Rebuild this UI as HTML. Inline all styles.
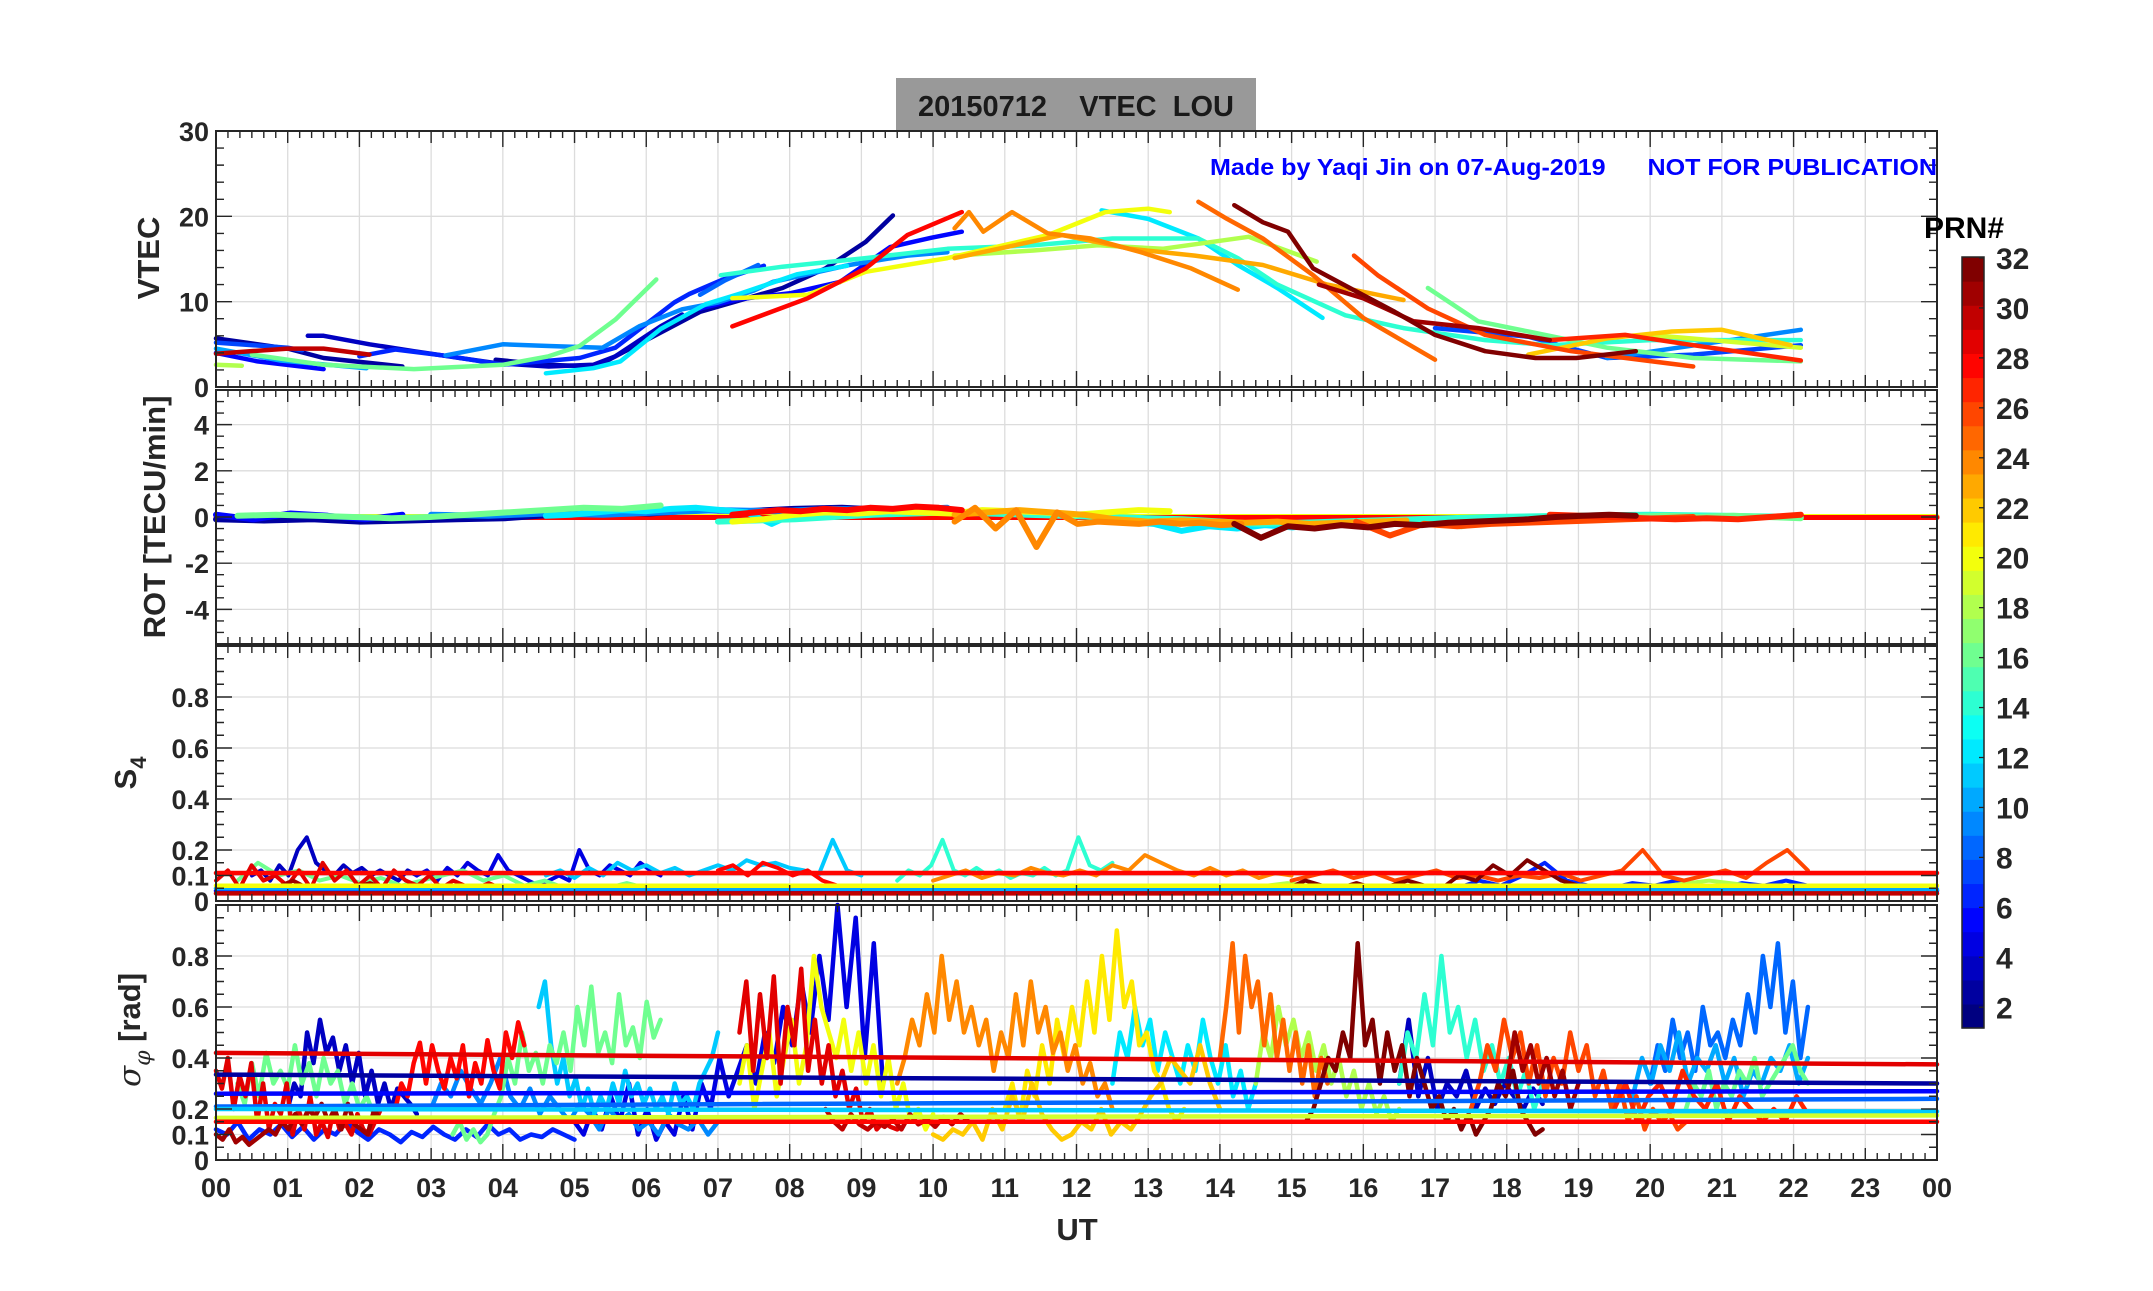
<!DOCTYPE html>
<html><head><meta charset="utf-8"><style>
html,body{margin:0;padding:0;background:#fff;}
svg text{font-family:"Liberation Sans",Arial,sans-serif;font-weight:bold;}
</style></head><body>
<svg id="fig" width="2153" height="1286" viewBox="0 0 2153 1286" xmlns="http://www.w3.org/2000/svg">
<rect x="0" y="0" width="2153" height="1286" fill="#fff"/>
<g id="title-box">
<rect x="896" y="78" width="360" height="54" fill="#999999"/>
<text x="1076" y="116" font-size="29" text-anchor="middle" fill="#1a1a1a" xml:space="preserve">20150712    VTEC  LOU</text>
</g>
<g id="panels"></g>
<text x="1210" y="175" font-size="23" fill="#0000ff" xml:space="preserve" textLength="727" lengthAdjust="spacingAndGlyphs">Made by Yaqi Jin on 07-Aug-2019      NOT FOR PUBLICATION</text>
<text x="1077" y="1240" font-size="31" text-anchor="middle" fill="#262626">UT</text>
<text transform="translate(159,258) rotate(-90)" font-size="31" text-anchor="middle" fill="#262626">VTEC</text>
<text transform="translate(165,517) rotate(-90)" font-size="31" text-anchor="middle" fill="#262626">ROT [TECU/min]</text>
<text transform="translate(136,773) rotate(-90)" font-size="31" text-anchor="middle" fill="#262626">S<tspan font-size="22" dy="10">4</tspan></text>
<text transform="translate(140,1030) rotate(-90)" font-size="31" text-anchor="middle" fill="#262626"><tspan font-style="italic" font-family="DejaVu Serif, serif" font-weight="normal">σ</tspan><tspan font-size="22" dy="10" font-style="italic" font-family="DejaVu Serif, serif" font-weight="normal">φ</tspan><tspan dy="-10"> [rad]</tspan></text>
<g id="colorbar"></g>
<text x="1924" y="238" font-size="30" fill="#000">PRN#</text>
</svg>
<script>
// ---------- DATA ----------
const hourTicks = ["00","01","02","03","04","05","06","07","08","09","10","11","12","13","14","15","16","17","18","19","20","21","22","23","00"];
const vtecTicks = [0,10,20,30];
const rotTicks = [-4,-2,0,2,4];
const s4Ticks = [0,0.1,0.2,0.4,0.6,0.8];
const sigTicks = [0,0.1,0.2,0.4,0.6,0.8];
const cbTicks = [2,4,6,8,10,12,14,16,18,20,22,24,26,28,30,32];

// VTEC series: prn, times (h), values
const vtecPrn = [2,5,7,30,18,10,3,6,16,9,12,2,5,8,14,20,18,28,24,23,25,32,31,26,16,27,22,7,9,19,12];
const vtecT = [
 [0,1,1.5,2.6],[0,0.58,1.5],[0,1,1.2],[0,1,1.5,2.14],[0,0.36],[0,0.9,2.1],
 [1.28,1.5,2.14,2.76,3.4,3.9,4.64,5.26,5.57,6.2,6.5],
 [2.0,2.5,3.26,4,5.07,5.57,6.39,6.6,7.07,7.64],
 [0.5,1.5,2.76,4,4.64,5.07,5.57,6.14],
 [3.2,4,4.64,5.39,5.9,6.5,7,7.5,7.76,8.83,9.64,10.2],
 [4.6,5.26,5.64,6.2,6.83,7.33,8.1,8.8],
 [3.9,4.6,5.3,6.0,6.75,7.9,8.5,9.06,9.44],
 [6.75,7.3,8.02,8.7,9.4,9.98,10.4],
 [6.75,7.1,7.56],
 [7.04,7.9,9.06,10.2,11.4,12.5,13.7,14.25,14.8,15.75,16.56,17.7,18.6,20,22.1],
 [7.2,8.25,9.06,10.2,11.6,12.4,13,13.3],
 [10.3,11.4,12.3,13.2,14.4,15.35],
 [7.2,8.25,9.06,9.64,10.4],
 [10.3,10.5,10.7,11.1,11.6,12.2,12.9,13.6,14.25],
 [10.3,11.8,12.75,13.65,14.6,15.5,16.56],
 [13.7,14.1,14.6,15.3,16,17],
 [14.2,14.6,14.95,15.3,15.9,16.44,17,17.7,18.4,18.97,19.8],
 [15.38,16,16.7,17.6,18.6],
 [15.87,16.2,16.9,17.7,18.9,20.6],
 [16.9,17.6,18.3,19.4,20.6,22.1],
 [18.6,19.65,20.6,22.1],
 [18.3,19.4,20.3,21,21.96],
 [17,18.3,19.4,20.6,22.1],
 [19.4,22.1],
 [20,22.1],
 [12.35,13,13.7,14.25,14.8,15.43]
];
const vtecV = [
 [5.7,4.5,3.4,2.4],[4.0,3.0,2.1],[5.2,4.6,4.3],[3.9,4.5,4.5,3.8],[2.6,2.5],[4.5,3.1,2.2],
 [6.0,6.0,5.0,4.2,3.4,2.8,2.4,2.6,3.6,7.1,8.5],
 [3.6,4.4,3.6,2.6,3.4,4.6,9.9,10.9,12.6,14.2],
 [3.8,2.6,2.1,2.6,3.6,4.8,7.9,12.6],
 [3.7,5.0,4.8,4.6,7.1,9.1,9.9,11.3,12.3,14.3,15.4,15.8],
 [1.6,2.2,3.0,6.8,9.7,11.0,13.2,14.2],
 [3.2,2.6,2.4,5.5,8.8,11.6,13.9,17.0,20.1],
 [9.2,10.3,11.0,12.3,16.4,17.5,18.2],
 [10.8,12.5,14.3],
 [13.1,14.1,15.1,16.2,16.6,17.4,17.4,15.1,12,8.4,6.9,5.5,4.9,5.5,5.5],
 [10.4,10.8,13.5,15.1,17.8,20.5,20.9,20.5],
 [15.4,16.0,16.6,16.2,17.6,14.7],
 [7.1,10.4,13.9,17.8,20.5],
 [18.6,20.5,18.2,20.5,18.0,17.4,15.8,13.9,11.4],
 [15.1,17.8,16.2,15.4,14.3,12,10.2],
 [21.7,19.7,17.4,13.1,8.1,3.2],
 [21.3,19.3,18.2,13.9,11.2,8.8,6.1,4.2,3.4,3.4,4.2],
 [12,10.4,7.7,6.9,5.5],
 [15.4,13.1,9.2,6.1,4.2,2.4],
 [11.6,7.7,6.5,4.6,3.4,3.0],
 [5.5,6.1,4.9,3.1],
 [3.8,5.7,6.5,6.7,4.9],
 [6.9,5.9,3.4,3.8,4.9],
 [3.4,6.7],
 [6.1,4.6],
 [20.7,19.7,17.4,14.3,11.6,8.1]
];

// ROT series
const rotPrn = [2,16,12,28,20,24,23,12,32,26,16,27,9,5,14];
const rotT0 = [0,0.3,4.6,7.2,7.2,10.3,10.3,12.3,14.2,15.9,16.9,18.6,3.0,0,7.0];
const rotT1 = [9.4,6.2,8.8,10.4,13.3,14.3,16.6,15.4,19.8,20.6,22.1,22.1,10.2,2.6,22.1];
const rotV = [
 [-0.1,-0.15,-0.1,-0.2,-0.15,-0.1,-0.05,0.1,0.2,0.15,0.3,0.25,0.35,0.4,0.3],
 [0.05,0.1,0.05,0,-0.05,0,0.1,0.2,0.3,0.4,0.35,0.5],
 [0.05,0.1,0.2,0.3,0.25,0.35,0.4,0.3,0.2,-0.3,0.2,0.3,0.25],
 [0.1,0.2,0.3,0.25,0.35,0.3,0.4,0.35,0.45,0.4,0.3],
 [-0.2,-0.1,0.1,0.2,0.15,0.25,0.2,0.15,0.3,0.25,0.2,0.1,0.2,0.3,0.25],
 [-0.2,0.4,-0.5,0.3,-1.3,0.2,-0.3,-0.2,-0.25,-0.3,-0.2,-0.3,-0.25,-0.35,-0.3],
 [0.1,0.2,0.3,0.2,0.1,-0.1,-0.2,-0.15,-0.2,-0.25,-0.2,-0.3,-0.25,-0.2,-0.15],
 [-0.1,-0.2,-0.3,-0.6,-0.4,-0.5,-0.35,-0.45,-0.3],
 [-0.3,-0.9,-0.4,-0.5,-0.35,-0.45,-0.3,-0.35,-0.25,-0.2,-0.15,-0.1,0,0.05,0.1,0.05],
 [-0.2,-0.8,-0.3,-0.4,-0.3,-0.25,-0.2,-0.15,-0.1,-0.05,0],
 [-0.3,-0.4,-0.2,-0.15,-0.1,-0.05,0,0.05,0,0.05,0,-0.05],
 [0.1,0.05,0,-0.05,-0.1,-0.05,-0.1,0,0.1],
 [0.1,0.05,0.15,0.1,0.2,0.3,0.25,0.35,0.3,0.4],
 [0.1,-0.1,0.15,0.05,-0.1,0.1],
 [-0.2,-0.1,0.1,0.2,0.1,0,-0.1,-0.3,-0.2,-0.1,0,0.05,0.1,0.05,0]
];
const rotFlatPrn = [2,20,28];
const rotFlatV = [0,0.02,-0.02];

// S4 series
const s4Prn = [3,4,29,31,16,11,28,14,24,32,26,6,18];
const s4T0 = [0.5,2.8,0,0,0.3,4.6,7.0,9.5,10,14,15,17,12];
const s4T1 = [2.8,6.2,4.3,4.3,6.3,9.0,9.5,12.5,15,19,22.2,22.2,22];
const s4V = [
 [0.1,0.12,0.08,0.14,0.1,0.2,0.25,0.15,0.12,0.1,0.14,0.11,0.13,0.1,0.12,0.1,0.08,0.12,0.1],
 [0.1,0.12,0.08,0.13,0.1,0.15,0.12,0.1,0.18,0.12,0.1,0.08,0.06,0.08,0.1,0.08,0.2,0.12,0.1,0.14,0.12,0.1,0.15,0.12,0.1],
 [0.08,0.12,0.05,0.14,0.08,0.1,0.06,0.12,0.05,0.15,0.08,0.12,0.06,0.1,0.05,0.12,0.08,0.06,0.1,0.05,0.08,0.06,0.05,0.07,0.05,0.06,0.04],
 [0.05,0.04,0.06,0.05,0.08,0.04,0.06,0.05,0.07,0.04,0.05,0.03,0.05,0.04,0.03,0.04,0.03],
 [0.08,0.15,0.1,0.12,0.08,0.1,0.07,0.09,0.06,0.08,0.1,0.12,0.08,0.1,0.06,0.08,0.05,0.06,0.05,0.07,0.05,0.06],
 [0.1,0.12,0.09,0.13,0.1,0.15,0.12,0.14,0.11,0.13,0.1,0.12,0.14,0.12,0.16,0.14,0.15,0.13,0.12,0.1,0.24,0.12,0.1],
 [0.12,0.14,0.1,0.15,0.13,0.1,0.12,0.08,0.06,0.05,0.04,0.05,0.04],
 [0.08,0.12,0.1,0.14,0.24,0.12,0.1,0.13,0.1,0.12,0.09,0.11,0.1,0.13,0.1,0.12,0.25,0.14,0.12,0.15],
 [0.08,0.1,0.12,0.09,0.11,0.1,0.13,0.11,0.1,0.12,0.1,0.14,0.12,0.18,0.15,0.12,0.1,0.13,0.1,0.12,0.09,0.11,0.1],
 [0.03,0.05,0.04,0.06,0.05,0.08,0.06,0.05,0.07,0.05,0.06,0.08,0.06,0.05,0.1,0.08,0.14,0.1,0.16,0.12,0.08,0.06],
 [0.08,0.1,0.12,0.09,0.11,0.08,0.1,0.12,0.09,0.1,0.08,0.1,0.09,0.11,0.08,0.1,0.12,0.2,0.1,0.08,0.1,0.12,0.09,0.15,0.2,0.12],
 [0.06,0.05,0.08,0.06,0.1,0.15,0.08,0.06,0.05,0.07,0.06,0.08,0.06,0.05,0.07,0.06,0.08,0.06],
 [0.05,0.06,0.04,0.06,0.05,0.07,0.05,0.06,0.04,0.06,0.05,0.06,0.04,0.05,0.06,0.08,0.06,0.05]
];
const s4FlatPrn = [5,10,20,30,28];
const s4FlatV0 = [0.04,0.05,0.06,0.03,0.11];
const s4FlatV1 = [0.04,0.045,0.06,0.03,0.11];

// sigma-phi series
const sigPrn = [6,9,3,16,31,29,28,16,11,4,20,30,29,24,22,21,12,25,18,14,3,32,26,31,8,10,16,27];
const sigT0 = [0,3,1,0.3,0,0,2.5,3.3,4.5,5,7.3,8.5,7.3,9.5,10,11,12.5,14,14.5,16.5,16.5,15.2,17.5,18,20,19.5,20.5,19.5];
const sigT1 = [5,7,2.8,2.3,2.3,2.3,4.3,6.2,7,9.3,10,10.5,9.5,12.5,14,13.5,14.5,15.5,16.5,18.5,18.5,18.5,20.5,19,22.2,22.2,22.2,22.2];
const sigV = [
 [0.12,0.1,0.15,0.08,0.12,0.1,0.14,0.09,0.13,0.08,0.12,0.1,0.15,0.11,0.08,0.12,0.1,0.07,0.11,0.09,0.13,0.1,0.08,0.12,0.09,0.14,0.1,0.12,0.08,0.1,0.09,0.12,0.1,0.08],
 [0.2,0.3,0.25,0.35,0.28,0.22,0.3,0.4,0.25,0.2,0.28,0.18,0.25,0.2,0.15,0.22,0.18,0.12,0.2,0.15,0.18,0.12,0.15,0.1,0.18,0.14,0.12,0.16,0.1,0.15],
 [0.2,0.3,0.25,0.5,0.38,0.55,0.42,0.48,0.35,0.45,0.3,0.42,0.25,0.35,0.22,0.3,0.2,0.28,0.25,0.22,0.18],
 [0.3,0.22,0.38,0.25,0.42,0.3,0.35,0.28,0.45,0.3,0.38,0.25,0.4,0.3,0.35,0.22,0.3,0.2,0.25,0.18,0.2],
 [0.1,0.08,0.12,0.07,0.09,0.06,0.08,0.1,0.12,0.1,0.15,0.12,0.18,0.14,0.2,0.17,0.22,0.15,0.2,0.12,0.22,0.14,0.12,0.1,0.2,0.15],
 [0.35,0.28,0.4,0.2,0.33,0.25,0.38,0.15,0.3,0.12,0.22,0.18,0.3,0.1,0.2,0.12,0.25,0.1,0.15,0.09,0.2,0.12,0.14,0.1,0.18,0.12,0.1,0.15,0.2],
 [0.2,0.3,0.25,0.38,0.46,0.3,0.45,0.35,0.28,0.4,0.32,0.45,0.25,0.38,0.3,0.47,0.35,0.28,0.5,0.4,0.54,0.45],
 [0.1,0.15,0.08,0.12,0.07,0.1,0.18,0.25,0.4,0.3,0.5,0.35,0.42,0.3,0.45,0.38,0.5,0.35,0.6,0.45,0.68,0.42,0.5,0.38,0.65,0.45,0.52,0.4,0.62,0.48,0.55],
 [0.6,0.7,0.45,0.3,0.4,0.25,0.32,0.2,0.28,0.18,0.25,0.2,0.3,0.22,0.35,0.25,0.3,0.22,0.28,0.2,0.25,0.18,0.3,0.22,0.25,0.2,0.3,0.35,0.4,0.5],
 [0.15,0.1,0.2,0.12,0.25,0.15,0.3,0.1,0.2,0.08,0.15,0.1,0.25,0.12,0.3,0.2,0.4,0.25,0.35,0.45,0.3,0.5,0.38,0.6,0.45,0.7,0.5,0.8,0.55,1.0,0.6,0.95,0.4,0.85,0.3],
 [0.3,0.45,0.2,0.35,0.5,0.25,0.4,0.55,0.3,0.45,0.8,0.6,0.5,0.4,0.55,0.35,0.5,0.3,0.45,0.25,0.4,0.2,0.3,0.15,0.2,0.12,0.18],
 [0.2,0.15,0.12,0.18,0.14,0.12,0.15,0.13,0.16,0.12,0.18,0.14,0.16,0.13,0.17,0.14,0.18,0.15],
 [0.5,0.7,0.35,0.65,0.4,0.72,0.3,0.6,0.45,0.75,0.35,0.55,0.3,0.45,0.25,0.35,0.2,0.28,0.15,0.2,0.12,0.15,0.13,0.12],
 [0.3,0.4,0.55,0.45,0.65,0.5,0.8,0.55,0.7,0.5,0.6,0.45,0.55,0.35,0.5,0.4,0.65,0.45,0.7,0.5,0.6,0.42,0.5,0.35,0.45,0.3,0.38,0.25,0.3,0.2],
 [0.1,0.08,0.12,0.1,0.15,0.08,0.2,0.12,0.25,0.15,0.3,0.18,0.12,0.08,0.1,0.15,0.12,0.2,0.1,0.15,0.12,0.18,0.25,0.3,0.4,0.35,0.3,0.45,0.3,0.2],
 [0.2,0.3,0.15,0.35,0.25,0.45,0.3,0.55,0.4,0.6,0.45,0.7,0.5,0.8,0.55,0.9,0.6,0.7,0.45,0.5,0.35,0.3,0.2,0.15,0.2],
 [0.3,0.5,0.4,0.6,0.45,0.55,0.35,0.5,0.4,0.3,0.45,0.35,0.55,0.4,0.3,0.45,0.25,0.35,0.2,0.3],
 [0.4,0.6,0.85,0.5,0.8,0.6,0.7,0.45,0.65,0.4,0.55,0.35,0.5,0.3,0.45,0.25,0.4,0.3],
 [0.3,0.5,0.4,0.6,0.45,0.55,0.4,0.5,0.35,0.45,0.3,0.4,0.25,0.35,0.2,0.3,0.18,0.25,0.15,0.2],
 [0.3,0.5,0.4,0.65,0.45,0.8,0.5,0.6,0.4,0.55,0.35,0.45,0.3,0.4,0.25,0.35,0.2,0.3],
 [0.3,0.55,0.25,0.4,0.2,0.3,0.25,0.35,0.2,0.28,0.22,0.3,0.25,0.2,0.28,0.22],
 [0.15,0.2,0.3,0.4,0.35,0.5,0.4,0.85,0.45,0.55,0.3,0.5,0.35,0.45,0.25,0.4,0.3,0.2,0.25,0.15,0.2,0.12,0.18,0.1,0.15,0.2,0.3,0.25,0.35,0.2,0.15,0.1,0.12],
 [0.2,0.3,0.45,0.35,0.55,0.4,0.5,0.3,0.45,0.25,0.4,0.3,0.5,0.35,0.45,0.25,0.35,0.2,0.3,0.15,0.25,0.12,0.2,0.15,0.18,0.12,0.15],
 [0.3,0.5,0.35,0.45,0.3,0.4,0.25,0.35,0.2,0.3],
 [0.3,0.45,0.35,0.55,0.4,0.5,0.35,0.6,0.45,0.5,0.4,0.55,0.45,0.65,0.5,0.8,0.6,0.85,0.5,0.7,0.4,0.6],
 [0.2,0.3,0.25,0.4,0.3,0.45,0.35,0.5,0.3,0.4,0.35,0.45,0.3,0.4,0.25,0.35,0.3,0.4,0.35,0.45,0.3,0.4],
 [0.2,0.3,0.25,0.35,0.2,0.3,0.25,0.35,0.3,0.4,0.25,0.3,0.35,0.4,0.45,0.35,0.3],
 [0.2,0.3,0.15,0.25,0.3,0.2,0.35,0.25,0.2,0.3,0.15,0.25,0.2,0.15,0.2,0.15,0.25,0.18]
];
const sigFlatPrn = [2,5,8,11,19,28,29];
const sigFlatV0 = [0.335,0.26,0.21,0.2,0.165,0.15,0.42];
const sigFlatV1 = [0.3,0.27,0.24,0.19,0.175,0.15,0.375];

// ---------- RENDER ----------
const NS = "http://www.w3.org/2000/svg";
const svg = document.getElementById('fig');
const panelsG = document.getElementById('panels');
const XL = 216, XR = 1937;
const X = h => XL + (XR - XL) * h / 24;
function jet(p){
  const v = (p - 1) / 31;
  const c = t => Math.round(255 * Math.max(0, Math.min(1, 1.5 - Math.abs(4 * v - t))));
  return `rgb(${c(3)},${c(2)},${c(1)})`;
}
function mk(tag, attrs, parent){
  const e = document.createElementNS(NS, tag);
  for (const k in attrs) e.setAttribute(k, attrs[k]);
  parent.appendChild(e);
  return e;
}
const panels = [
 {key:'vtec', top:131, bot:387, min:0, max:30, ticks:vtecTicks, minor:2, fmt:v=>String(v)},
 {key:'rot', top:390, bot:644, min:-5.5, max:5.5, ticks:rotTicks, minor:0.5, fmt:v=>String(v)},
 {key:'s4', top:646, bot:901, min:0, max:1, ticks:s4Ticks, minor:0.05, fmt:v=>v===0?'0':String(v)},
 {key:'sig', top:905, bot:1160, min:0, max:1, ticks:sigTicks, minor:0.05, fmt:v=>v===0?'0':String(v)}
];
panels.forEach(p => { p.Y = v => p.bot - (p.bot - p.top) * (v - p.min) / (p.max - p.min); });

function drawPanelFrame(p){
  const g = mk('g', {}, panelsG);
  
  
  for (let h = 1; h < 24; h++) {
    const l = mk('line', {x1:X(h), x2:X(h), y1:p.top, y2:p.bot, stroke:'#dcdcdc', 'stroke-width':1.3}, g);
    
    
  }
  p.ticks.forEach(v => {
    if (v === p.min || v === p.max) return;
    const l = mk('line', {x1:XL, x2:XR, y1:p.Y(v), y2:p.Y(v), stroke:'#dcdcdc', 'stroke-width':1.3}, g);
    
    
  });
  p.g = mk('g', {}, panelsG);
  
  
}
function drawPanelAxes(p){
  const g = mk('g', {}, panelsG);
  
  
  let d = '';
  for (let m = 0; m <= 144; m++) {
    const h = m / 6, x = X(h);
    const len = (m % 12 === 0) ? 16 : (m % 6 === 0 ? 12 : 7);
    d += `M${x},${p.bot}v${-len}M${x},${p.top}v${len}`;
  }
  const nMin = Math.round((p.max - p.min) / p.minor);
  for (let i = 0; i <= nMin; i++) {
    const v = p.min + i * p.minor, y = p.Y(v);
    const major = p.ticks.some(t => Math.abs(t - v) < 1e-6);
    const len = major ? 16 : 8;
    d += `M${XL},${y}h${len}M${XR},${y}h${-len}`;
  }
  mk('path', {d:d, stroke:'#262626', 'stroke-width':1.4, fill:'none'}, g);
  mk('rect', {x:XL, y:p.top, width:XR - XL, height:p.bot - p.top, fill:'none', stroke:'#262626', 'stroke-width':2}, g);
  p.ticks.forEach(v => {
    const t = mk('text', {x:XL - 7, y:p.Y(v) + 10, 'font-size':27, 'text-anchor':'end', fill:'#262626'}, g);
    t.textContent = p.fmt(v);
    
    
  });
}
function line(p, prn, ts, vs, w){
  let d = '';
  ts.forEach((t, i) => { d += (i ? 'L' : 'M') + X(t).toFixed(1) + ',' + p.Y(vs[i]).toFixed(1); });
  const e = mk('path', {d:d, stroke:jet(prn), 'stroke-width':w, fill:'none', 'stroke-linejoin':'round', 'stroke-linecap':'round'}, p.g);
  
  
}
function evenSeries(p, prn, t0, t1, vs, w){
  const n = vs.length;
  const ts = vs.map((_, i) => t0 + (t1 - t0) * i / (n - 1));
  line(p, prn, ts, vs, w);
}
panels.forEach(drawPanelFrame);
const [PV, PR, PS, PG] = panels;

vtecPrn.map((p, i) => i).sort((a, b) => vtecPrn[a] - vtecPrn[b]).forEach(i => line(PV, vtecPrn[i], vtecT[i], vtecV[i], 4.5));
rotFlatPrn.forEach((p, i) => line(PR, p, [0, 24], [rotFlatV[i], rotFlatV[i]], 5));
rotPrn.map((p, i) => i).sort((a, b) => rotPrn[a] - rotPrn[b]).forEach(i => evenSeries(PR, rotPrn[i], rotT0[i], rotT1[i], rotV[i], 6));
s4Prn.map((p, i) => i).sort((a, b) => s4Prn[a] - s4Prn[b]).forEach(i => evenSeries(PS, s4Prn[i], s4T0[i], s4T1[i], s4V[i], 4));
s4FlatPrn.forEach((p, i) => line(PS, p, [0, 24], [s4FlatV0[i], s4FlatV1[i]], 4.5));
sigPrn.map((p, i) => i).sort((a, b) => sigPrn[a] - sigPrn[b]).forEach(i => evenSeries(PG, sigPrn[i], sigT0[i], sigT1[i], sigV[i], 4.5));
sigFlatPrn.forEach((p, i) => line(PG, p, [0, 24], [sigFlatV0[i], sigFlatV1[i]], 4.5));

panels.forEach(drawPanelAxes);

hourTicks.forEach((lab, h) => {
  const t = mk('text', {x:X(h), y:1197, 'font-size':27, 'text-anchor':'middle', fill:'#262626'}, svg);
  t.textContent = lab;
  
  
});

const cb = document.getElementById('colorbar');
const CBX = 1962, CBW = 22, CBT = 257, CBB = 1028;
const cbLo = 1.17, cbHi = 32.04;
const CY = v => CBB - (CBB - CBT) * (v - cbLo) / (cbHi - cbLo);
for (let k = 1; k <= 32; k++) {
  const y0 = CBB - (CBB - CBT) * k / 32, y1 = CBB - (CBB - CBT) * (k - 1) / 32;
  const r = mk('rect', {x:CBX, y:y0, width:CBW, height:y1 - y0 + 0.6, fill:jet(k)}, cb);
  
  
}
mk('rect', {x:CBX, y:CBT, width:CBW, height:CBB - CBT, fill:'none', stroke:'#262626', 'stroke-width':1.5}, cb);
cbTicks.forEach(v => {
  mk('line', {x1:CBX + CBW - 5, x2:CBX + CBW, y1:CY(v), y2:CY(v), stroke:'#262626', 'stroke-width':1.3}, cb);
  const t = mk('text', {x:1996, y:CY(v) + 11, 'font-size':30, fill:'#262626'}, cb);
  t.textContent = String(v);
  
  
});
</script>
</body></html>
